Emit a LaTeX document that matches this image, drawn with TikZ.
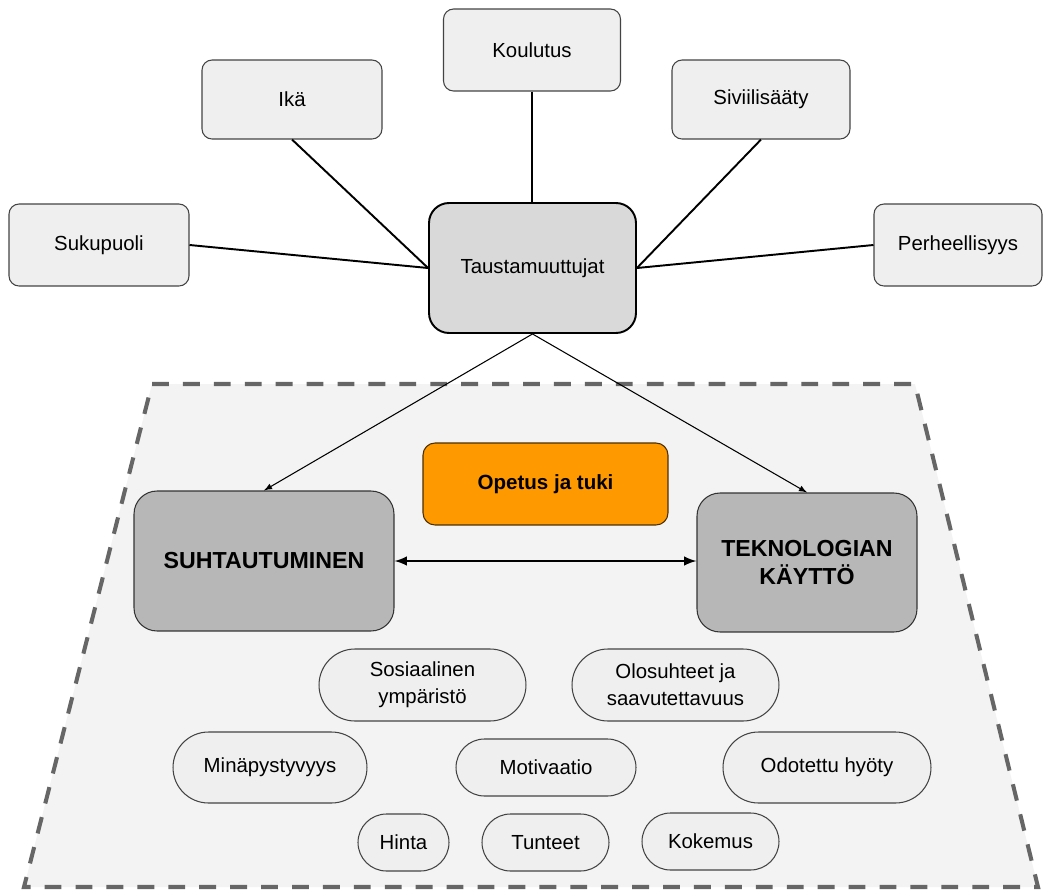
\documentclass[tikz,border=0pt]{standalone}
\usepackage{fontspec}
\setmainfont{Liberation Sans}
\usetikzlibrary{shapes.misc}

\definecolor{vaalea}{HTML}{EFEFEF}
\definecolor{harmaa}{HTML}{D9D9D9}
\definecolor{tumma}{HTML}{B7B7B7}
\definecolor{oranssi}{HTML}{FF9900}
\definecolor{pohja}{HTML}{F3F3F3}
\definecolor{katko}{HTML}{666666}
\definecolor{reuna}{HTML}{434343}

\begin{document}
\begin{tikzpicture}[>=latex,x=0.02cm,y=-0.02cm,
	laatikko/.style={draw=reuna,line width=0.6pt,fill=vaalea,rounded corners=0.2cm,
		inner sep=0pt,font=\fontsize{11.6}{14}\selectfont},
	pilleri/.style={rounded rectangle,draw=reuna,line width=0.6pt,fill=vaalea,
		inner sep=0pt,align=center,font=\fontsize{11.6}{15.2}\selectfont},
	paa/.style={draw=black!80,line width=0.6pt,fill=tumma,rounded corners=0.46cm,
		inner sep=0pt,align=center,font=\bfseries\fontsize{13.2}{16.4}\selectfont},
	viiva/.style={line width=1.1pt}]
\useasboundingbox (0,0) rectangle (1046,893);

% alue
\draw[katko,line width=2.3pt,dash pattern=on 9.6pt off 8pt,fill=pohja]
	(152,384) -- (915,384) -- (1038,887) -- (24,887) -- cycle;

% taustamuuttujat
\node[laatikko,fill=harmaa,draw=black,line width=1.1pt,rounded corners=0.4cm,
	minimum width=4.14cm,minimum height=2.6cm] (tausta) at (532.5,268) {Taustamuuttujat};
\node[laatikko,minimum width=3.6cm,minimum height=1.64cm] (suku) at (99,245) {Sukupuoli};
\node[laatikko,minimum width=3.6cm,minimum height=1.58cm] (ika) at (292,99.5) {Ikä};
\node[laatikko,minimum width=3.54cm,minimum height=1.64cm] (koul) at (532,50) {Koulutus};
\node[laatikko,minimum width=3.56cm,minimum height=1.58cm] (sivi) at (761,99.5) {Siviilisääty};
\node[laatikko,minimum width=3.36cm,minimum height=1.64cm] (perhe) at (958,245) {Perheellisyys};

\draw[viiva] (suku.east) -- (tausta.west);
\draw[viiva] (ika.south) -- (tausta.west);
\draw[viiva] (koul.south) -- (koul.south |- tausta.north);
\draw[viiva] (sivi.south) -- (tausta.east);
\draw[viiva] (perhe.west) -- (tausta.east);

% paakasitteet
\node[paa,minimum width=5.2cm,minimum height=2.8cm] (suht) at (264,561) {SUHTAUTUMINEN};
\node[paa,minimum width=4.4cm,minimum height=2.78cm] (tekno) at (807,562.5) {TEKNOLOGIAN\\KÄYTTÖ};
\node[laatikko,fill=oranssi,draw=black!70!oranssi,rounded corners=0.24cm,
	font=\bfseries\fontsize{11.7}{14}\selectfont,
	minimum width=4.9cm,minimum height=1.64cm] (opetus) at (545.5,484) {Opetus ja tuki};

\draw[->,line width=0.6pt] (tausta.south) -- (suht.north);
\draw[->,line width=0.6pt] (tausta.south) -- (tekno.north);
\draw[<->,line width=1.4pt] (suht.east) -- (suht.east -| tekno.west);

% tekijat
\node[pilleri,minimum width=4.14cm,minimum height=1.44cm] (sos) at (422.5,685) {Sosiaalinen\\ympäristö};
\node[pilleri,minimum width=4.14cm,minimum height=1.44cm] (olo) at (675.5,685) {Olosuhteet ja\\saavutettavuus};
\node[pilleri,minimum width=3.88cm,minimum height=1.42cm] (mina) at (270,767.5) {Minäpystyvyys};
\node[pilleri,minimum width=3.6cm,minimum height=1.14cm] (moti) at (546,767.5) {Motivaatio};
\node[pilleri,minimum width=4.16cm,minimum height=1.42cm] (odo) at (827,767.5) {Odotettu hyöty};
\node[pilleri,minimum width=1.82cm,minimum height=1.14cm] (hinta) at (403.5,842.5) {Hinta};
\node[pilleri,minimum width=2.54cm,minimum height=1.14cm] (tunt) at (545.5,842.5) {Tunteet};
\node[pilleri,minimum width=2.74cm,minimum height=1.14cm] (koke) at (710.5,841.5) {Kokemus};

\end{tikzpicture}
\end{document}
